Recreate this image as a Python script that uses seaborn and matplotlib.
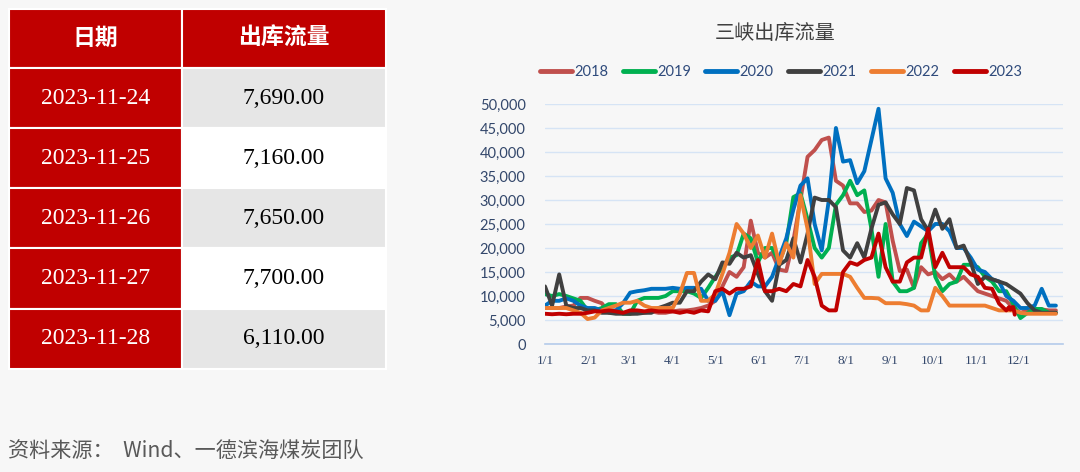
import pandas as pd
import matplotlib
matplotlib.use("Agg")
import matplotlib.pyplot as plt
from matplotlib.patches import Rectangle
from matplotlib.lines import Line2D
import matplotlib.ticker as ticker
import seaborn as sns

# 表格: 最近5天三峡出库流量
table_dates = ["2023-11-24", "2023-11-25", "2023-11-26", "2023-11-27", "2023-11-28"]
table_flows = [7690.00, 7160.00, 7650.00, 7700.00, 6110.00]

years = ["2018", "2019", "2020", "2021", "2022", "2023"]
colors = ["#C0504D", "#00B050", "#0070C0", "#404040", "#ED7D31", "#C00000"]

# 每5天取一个点, 单位: 千 m3/s
sample_days = list(range(0, 365, 5))

flow_2018 = [7.5, 7.5, 7.5, 7.8, 8.0, 9.6, 9.6, 9.0, 8.5, 6.5, 6.5, 6.5, 6.3, 6.5, 6.5, 6.8,
             6.5, 6.5, 6.8, 7.0, 7.0, 7.2, 7.5, 8.0, 9.0, 12.0, 15.0, 14.0, 16.0, 25.7, 19.0, 18.0,
             19.0, 15.5, 15.2, 21.5, 30.0, 39.0, 40.4, 42.5, 43.0, 34.0, 33.0, 29.3, 29.3, 27.5, 27.8, 30.0,
             29.5, 21.5, 15.2, 15.5, 11.7, 16.0, 14.5, 15.0, 13.5, 14.5, 13.0, 14.0, 12.5, 11.0, 10.5, 10.0,
             9.5, 9.0, 7.5, 6.5, 7.0, 7.0, 7.2, 7.0, 7.0]
flow_2019 = [10.4, 10.0, 10.4, 10.0, 9.5, 9.0, 7.0, 7.0, 7.5, 8.3, 8.3, 6.3, 6.3, 9.0, 9.6, 9.6,
             9.6, 10.0, 11.0, 11.0, 11.0, 10.5, 9.6, 11.7, 14.0, 16.0, 18.0, 18.5, 23.0, 22.0, 17.0, 20.0,
             20.0, 17.0, 21.0, 30.6, 31.4, 26.0, 20.0, 18.0, 20.0, 29.0, 31.0, 34.0, 31.0, 32.0, 24.0, 14.0,
             25.0, 13.0, 11.0, 11.0, 11.7, 21.0, 23.0, 14.0, 11.0, 12.5, 13.0, 16.5, 16.5, 16.0, 14.0, 13.0,
             11.0, 11.0, 8.3, 5.4, 6.5, 7.3, 7.3, 6.5, 6.5]
flow_2020 = [8.0, 9.0, 9.0, 9.5, 9.0, 8.0, 7.5, 7.5, 7.0, 7.0, 7.0, 8.5, 10.7, 11.0, 11.2, 11.5,
             11.5, 11.5, 11.7, 11.5, 11.7, 11.7, 11.5, 9.0, 9.0, 11.0, 6.0, 10.5, 11.0, 13.0, 12.0, 12.0,
             14.0, 18.0, 22.0, 28.0, 33.0, 34.5, 25.0, 19.5, 30.0, 45.0, 38.0, 38.3, 33.5, 36.0, 42.5, 49.0,
             34.5, 31.5, 25.0, 22.5, 25.5, 24.5, 23.5, 25.0, 25.0, 23.5, 20.0, 20.0, 18.0, 15.5, 15.0, 13.5,
             13.0, 10.0, 9.0, 7.5, 7.5, 8.0, 11.5, 8.0, 8.0]
flow_2021 = [12.0, 8.0, 14.5, 8.0, 7.5, 7.5, 7.0, 7.0, 6.5, 6.5, 6.3, 6.3, 6.3, 6.3, 6.5, 6.5,
             7.5, 8.0, 8.6, 8.6, 11.0, 11.0, 13.0, 14.5, 13.5, 17.0, 16.7, 19.0, 18.0, 18.5, 14.6, 11.0,
             9.0, 16.5, 17.5, 22.0, 17.0, 23.0, 30.5, 30.0, 30.0, 28.5, 19.5, 18.0, 21.0, 18.0, 24.0, 29.0,
             29.5, 27.0, 25.0, 32.5, 32.0, 26.0, 23.6, 28.0, 24.0, 26.0, 20.0, 20.5, 17.0, 12.5, 14.0, 13.5,
             13.0, 12.5, 11.5, 10.5, 8.5, 7.0, 6.5, 6.5, 6.5]
flow_2022 = [7.5, 7.5, 7.5, 7.5, 7.0, 6.5, 5.2, 5.5, 7.0, 7.5, 8.0, 8.6, 8.6, 9.0, 8.0, 7.5,
             7.5, 7.5, 7.5, 10.4, 14.8, 14.8, 9.0, 9.0, 10.4, 14.6, 19.0, 25.0, 23.0, 20.0, 22.6, 18.0,
             23.0, 16.7, 21.0, 18.0, 31.0, 24.0, 12.5, 14.6, 14.6, 14.6, 14.6, 14.0, 11.7, 9.6, 9.6, 9.5,
             8.5, 8.5, 8.5, 8.3, 8.0, 7.0, 7.0, 11.7, 10.0, 8.0, 8.0, 8.0, 8.0, 8.0, 8.0, 7.5,
             7.0, 7.0, 7.0, 6.5, 6.3, 6.3, 6.3, 6.3, 6.3]
flow_2023 = [6.3, 6.2, 6.3, 6.2, 6.3, 6.3, 6.5, 6.8, 6.8, 7.0, 6.8, 6.5, 7.0, 7.0, 6.8, 7.0,
             6.8, 6.8, 6.8, 6.5, 6.8, 6.5, 7.0, 6.8, 11.0, 11.5, 10.5, 11.5, 11.5, 12.0, 17.5, 11.0,
             11.0, 11.5, 11.0, 12.5, 12.0, 17.5, 14.0, 8.0, 7.0, 7.0, 15.0, 17.0, 16.5, 17.5, 18.0, 23.0,
             16.0, 13.0, 13.0, 17.0, 18.0, 18.0, 24.0, 16.0, 19.0, 16.0, 16.0, 16.0, 14.5, 14.0, 11.7, 11.5,
             8.4, 7.0]

month_ticks = [0, 31, 59, 90, 120, 151, 181, 212, 243, 273, 304, 334]
month_labels = ["1/1", "2/1", "3/1", "4/1", "5/1", "6/1", "7/1", "8/1", "9/1", "10/1", "11/1", "12/1"]

# 整理成长表
rows = []
for yr, vals in zip(years, [flow_2018, flow_2019, flow_2020, flow_2021, flow_2022, flow_2023]):
    for d, v in zip(sample_days, vals):
        rows.append({"day": d, "flow": v * 1000, "year": yr})
# 2023年最后几天直接用表格里的数
for dt, v in zip(table_dates, table_flows):
    rows.append({"day": pd.Timestamp(dt).dayofyear - 1, "flow": v, "year": "2023"})
df = pd.DataFrame(rows)

sns.set_style("white")
plt.rcParams["font.family"] = ["Noto Sans CJK SC", "DejaVu Sans"]
bg = "#F7F7F7"
cjk = ["Noto Sans CJK SC", "DejaVu Sans"]

fig = plt.figure(figsize=(10.8, 4.72), dpi=100, facecolor=bg)

# ---- 左侧表格 (像素坐标) ----
tab = fig.add_axes([0, 0, 1, 1])
tab.set_xlim(0, 1080)
tab.set_ylim(472, 0)
tab.axis("off")
tab.patch.set_alpha(0)

red = "#C00000"
col_x = [9, 182, 386]
row_y = [9, 68, 128, 188, 248, 309, 369]
for j in range(2):
    tab.add_patch(Rectangle((col_x[j], row_y[0]), col_x[j + 1] - col_x[j], row_y[1] - row_y[0],
                            facecolor=red, edgecolor="white", lw=1.5))
tab.text((col_x[0] + col_x[1]) / 2, 38, "日期", color="white", fontsize=16.5, fontweight="bold",
         ha="center", va="center", family=cjk)
tab.text((col_x[1] + col_x[2]) / 2, 38, "出库流量", color="white", fontsize=16.5, fontweight="bold",
         ha="center", va="center", family=cjk)
for i, (dt, v) in enumerate(zip(table_dates, table_flows)):
    y0, y1 = row_y[i + 1], row_y[i + 2]
    tab.add_patch(Rectangle((col_x[0], y0), col_x[1] - col_x[0], y1 - y0,
                            facecolor=red, edgecolor="white", lw=1.5))
    tab.add_patch(Rectangle((col_x[1], y0), col_x[2] - col_x[1], y1 - y0,
                            facecolor="#E6E6E6" if i % 2 == 0 else "white", edgecolor="white", lw=1.5))
    tab.text((col_x[0] + col_x[1]) / 2, (y0 + y1) / 2, dt, color="white", fontsize=17,
             ha="center", va="center", family="Liberation Serif")
    tab.text((col_x[1] + col_x[2]) / 2, (y0 + y1) / 2, f"{v:,.2f}", color="black", fontsize=17,
             ha="center", va="center", family="Liberation Serif")

tab.text(8, 451, "资料来源：  Wind、一德滨海煤炭团队", color="#595959", fontsize=15.2,
         ha="left", va="center", family=cjk)

# ---- 右侧折线图 ----
ax = fig.add_axes([545 / 1080, 1 - 344 / 472, 518 / 1080, 240 / 472])
ax.set_facecolor(bg)
sns.lineplot(data=df, x="day", y="flow", hue="year", palette=colors, linewidth=2.8,
             estimator=None, legend=False, ax=ax)

ax.set_xlim(0, 365)
ax.set_ylim(0, 50000)
ax.yaxis.set_major_locator(ticker.MultipleLocator(5000))
ax.yaxis.set_major_formatter(ticker.FuncFormatter(lambda v, p: f"{int(v):,}"))
ax.set_xticks(month_ticks)
ax.set_xticklabels(month_labels)
ax.grid(axis="y", color="#D6E4F5", lw=1)
ax.set_axisbelow(True)
for s in ["top", "right", "left"]:
    ax.spines[s].set_visible(False)
ax.spines["bottom"].set_color("#B4CBEA")
ax.spines["bottom"].set_linewidth(1.2)
ax.tick_params(axis="x", length=5, color="#B4CBEA", direction="out", pad=3,
               labelsize=9.5, labelcolor="#33476B")
ax.tick_params(axis="y", length=0, pad=14, labelsize=10.5, labelcolor="#33476B")
for lab in ax.get_xticklabels():
    lab.set_family("Liberation Serif")
for lab in ax.get_yticklabels():
    lab.set_family("Lato")
ax.set_xlabel("")
ax.set_ylabel("")

fig.text(775 / 1080, 1 - 33 / 472, "三峡出库流量", color="#404040", fontsize=14.5,
         ha="center", va="center", family=cjk)

handles = [Line2D([0], [0], color=c, lw=3.5, solid_capstyle="round") for c in colors]
leg = fig.legend(handles, years, loc="center", bbox_to_anchor=(781 / 1080, 1 - 72 / 472), ncol=6,
                 frameon=False, handlelength=2.2, handletextpad=0.15, columnspacing=1.0,
                 prop={"family": "Lato", "size": 10.5})
for t in leg.get_texts():
    t.set_color("#2F4B7C")

fig.savefig("out.png", dpi=100, facecolor=bg)
plt.close(fig)
